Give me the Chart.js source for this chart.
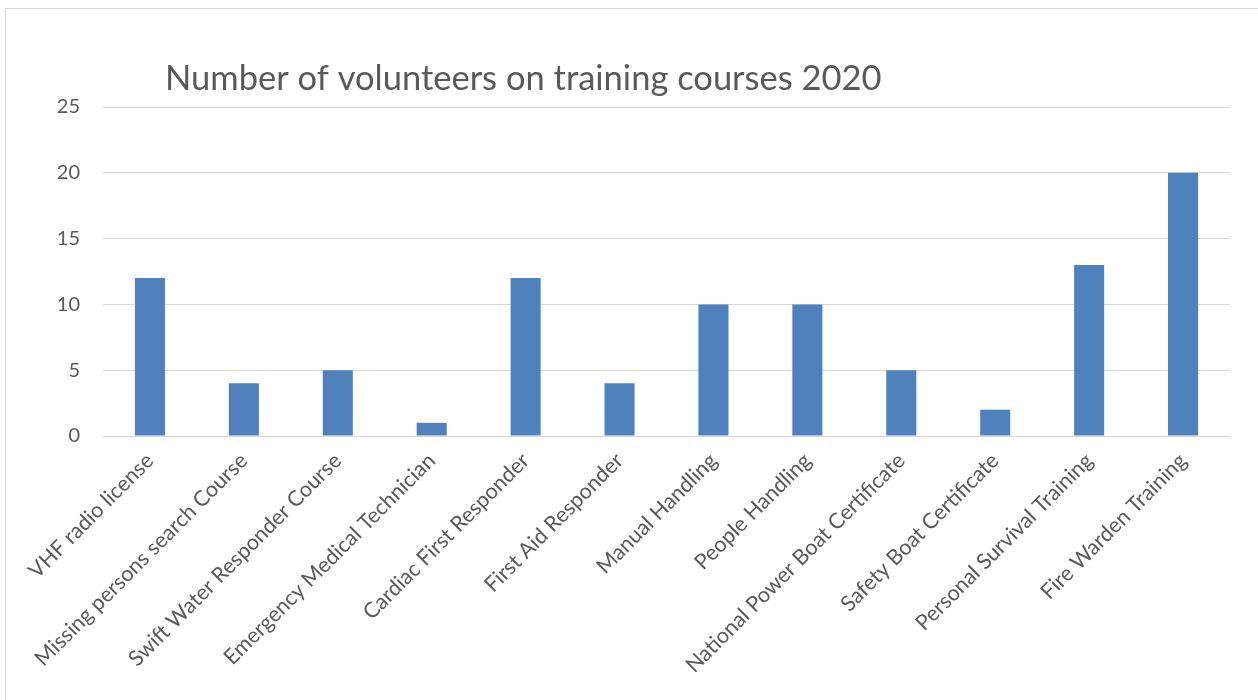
<!DOCTYPE html>
<html>
<head>
<meta charset="utf-8">
<script src="https://cdn.jsdelivr.net/npm/chart.js@4.4.1/dist/chart.umd.min.js"></script>
<style>
    body { margin: 0; background: #fff; overflow: hidden; }
    #frame { position: absolute; left: 5px; top: 8px; width: 1300px; height: 760px; border: 1px solid #d9d9d9; }
    #wrap { position: absolute; left: 0; top: 0; width: 1258px; height: 700px; }
</style>
</head>
<body>
<div id="frame"></div>
<div id="wrap"><canvas id="trainingChart" width="1258" height="700"></canvas></div>
<script>
const chartTitle = 'Number of volunteers on training courses 2020';
const courses = [
    'VHF radio license',
    'Missing persons search Course',
    'Swift Water Responder Course',
    'Emergency Medical Technician',
    'Cardiac First Responder',
    'First Aid Responder',
    'Manual Handling',
    'People Handling',
    'National Power Boat Certificate',
    'Safety Boat Certificate',
    'Personal Survival Training',
    'Fire Warden Training'
];
const volunteers = [12, 4, 5, 1, 12, 4, 10, 10, 5, 2, 13, 20];
const yTicks = [0, 5, 10, 15, 20, 25];

const textColor = '#595959';
const fontFamily = 'Lato, "Noto Sans", sans-serif';

// title sits left of centre like the Excel original, so draw it ourselves
const titlePlugin = {
    id: 'leftTitle',
    afterDraw(chart) {
        const ctx = chart.ctx;
        ctx.save();
        ctx.font = '34.5px ' + fontFamily;
        ctx.fillStyle = textColor;
        ctx.textBaseline = 'alphabetic';
        ctx.textAlign = 'left';
        ctx.fillText(chartTitle, chart.chartArea.left + 62, 90);
        ctx.restore();
    }
};

const ctx = document.getElementById('trainingChart').getContext('2d');
new Chart(ctx, {
    type: 'bar',
    data: {
        labels: courses,
        datasets: [{
            label: chartTitle,
            data: volunteers,
            backgroundColor: '#4f81bd',
            borderWidth: 0,
            barPercentage: 0.32,
            categoryPercentage: 1
        }]
    },
    options: {
        responsive: false,
        animation: false,
        layout: {
            padding: { top: 107, right: 28, left: 0, bottom: 0 }
        },
        plugins: {
            legend: { display: false },
            tooltip: { enabled: false }
        },
        scales: {
            x: {
                grid: { display: false, drawTicks: false },
                border: { display: true, color: '#d9d9d9', width: 1 },
                ticks: {
                    color: textColor,
                    font: { family: fontFamily, size: 21.5 },
                    minRotation: 45,
                    maxRotation: 45,
                    autoSkip: false,
                    padding: 12
                },
                afterFit: scale => { scale.height = 264; }
            },
            y: {
                min: 0,
                max: 25,
                afterBuildTicks: scale => {
                    scale.ticks = yTicks.map(v => ({ value: v }));
                },
                grid: { color: '#d9d9d9', lineWidth: 1, drawTicks: false },
                border: { display: false },
                ticks: {
                    color: textColor,
                    font: { family: fontFamily, size: 20 },
                    padding: 23
                },
                afterFit: scale => { scale.width = 103; }
            }
        }
    },
    plugins: [titlePlugin]
});
</script>
</body>
</html>
